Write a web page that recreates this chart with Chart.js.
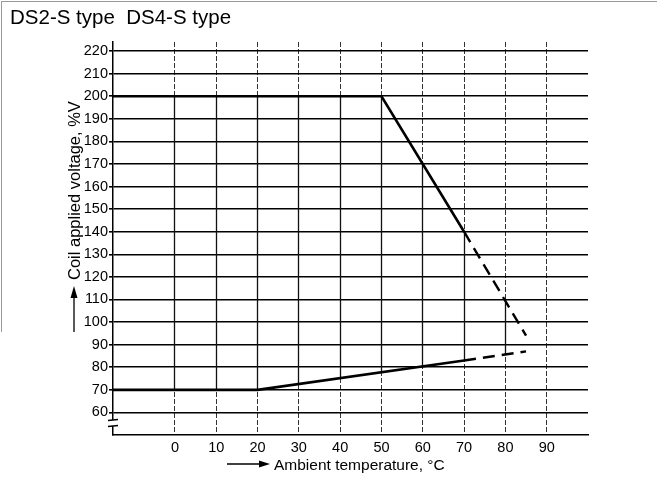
<!DOCTYPE html>
<html>
<head>
<meta charset="utf-8">
<script src="https://cdn.jsdelivr.net/npm/chart.js@4.4.1/dist/chart.umd.min.js"></script>
<style>
  html, body { margin: 0; padding: 0; background: #fff; }
  #marco { position: relative; width: 657px; height: 495px; overflow: hidden; }
  #borde { position: absolute; left: 1px; top: 1px; width: 660px; height: 330px;
           border-top: 1px solid #9a9a9a; border-left: 1px solid #9a9a9a; }
  canvas { position: absolute; left: 0; top: 0; }
</style>
</head>
<body>
<div id="marco">
  <div id="borde"></div>
  <canvas id="grafica" width="657" height="495"></canvas>
</div>
<script>
// Curva superior: tensión máxima admisible (tramo continuo y tramo a trazos)
const tempSupSolida = [-15, 50, 70];
const voltSupSolida = [200, 200, 140];
const tempSupTrazos = [70, 85];
const voltSupTrazos = [140, 94];

// Curva inferior: tensión mínima de operación
const tempInfSolida = [-15, 20, 70];
const voltInfSolida = [70, 70, 83];
const tempInfTrazos = [70, 85];
const voltInfTrazos = [83, 87];

// Marcas de los ejes
const ticksTemp = [0, 10, 20, 30, 40, 50, 60, 70, 80, 90];
const ticksVolt = [60, 70, 80, 90, 100, 110, 120, 130, 140, 150, 160, 170, 180, 190, 200, 210, 220];

const FUENTE = '"Liberation Sans", Arial, Helvetica, sans-serif';

function puntos(xs, ys) {
    return xs.map((x, i) => ({ x: x, y: ys[i] }));
}

// Interpolación sobre una poligonal para saber dónde corta una vertical
function valorEn(xs, ys, x) {
    for (let i = 0; i < xs.length - 1; i++) {
        if (x >= xs[i] && x <= xs[i + 1]) {
            let t = (x - xs[i]) / (xs[i + 1] - xs[i]);
            return ys[i] + t * (ys[i + 1] - ys[i]);
        }
    }
    return null;
}

// Las verticales de la rejilla se ven continuas dentro de la zona de trabajo
const rejillaInterior = {
    id: 'rejillaInterior',
    beforeDatasetsDraw(chart) {
        let ctx = chart.ctx;
        let sx = chart.scales.x, sy = chart.scales.y;
        let supX = tempSupSolida.concat(tempSupTrazos.slice(1));
        let supY = voltSupSolida.concat(voltSupTrazos.slice(1));
        let infX = tempInfSolida.concat(tempInfTrazos.slice(1));
        let infY = voltInfSolida.concat(voltInfTrazos.slice(1));
        ctx.save();
        ctx.strokeStyle = '#111';
        ctx.lineWidth = 1.3;
        ticksTemp.forEach(t => {
            let arriba = valorEn(supX, supY, t);
            let abajo = valorEn(infX, infY, t);
            if (arriba === null || abajo === null) return;
            // mismo redondeo que usa Chart.js para las líneas de 1px
            let px = Math.round(sx.getPixelForValue(t) - 0.5) + 0.5;
            ctx.beginPath();
            ctx.moveTo(px, sy.getPixelForValue(arriba));
            ctx.lineTo(px, sy.getPixelForValue(abajo));
            ctx.stroke();
        });
        ctx.restore();
    }
};

// Títulos, flechas de los ejes y el símbolo de corte del eje vertical
const rotulos = {
    id: 'rotulos',
    afterDraw(chart) {
        let ctx = chart.ctx;
        let area = chart.chartArea;
        ctx.save();
        ctx.fillStyle = '#000';
        ctx.strokeStyle = '#000';

        ctx.font = '20.5px ' + FUENTE;
        ctx.textBaseline = 'alphabetic';
        ctx.textAlign = 'left';
        ctx.fillText('DS2-S type  DS4-S type', 10, 24);

        // Eje X
        ctx.font = '15.5px ' + FUENTE;
        ctx.fillText('Ambient temperature, \u00b0C', 274, 470);
        ctx.lineWidth = 1.3;
        ctx.beginPath();
        ctx.moveTo(227, 464);
        ctx.lineTo(262, 464);
        ctx.stroke();
        ctx.beginPath();
        ctx.moveTo(270, 464);
        ctx.lineTo(259, 460.5);
        ctx.lineTo(259, 467.5);
        ctx.closePath();
        ctx.fill();

        // Eje Y
        ctx.save();
        ctx.translate(80, 280);
        ctx.rotate(-Math.PI / 2);
        ctx.font = '16.5px ' + FUENTE;
        ctx.fillText('Coil applied voltage, %V', 0, 0);
        ctx.restore();
        ctx.beginPath();
        ctx.moveTo(74, 332);
        ctx.lineTo(74, 295);
        ctx.stroke();
        ctx.beginPath();
        ctx.moveTo(74, 286);
        ctx.lineTo(70.5, 298);
        ctx.lineTo(77.5, 298);
        ctx.closePath();
        ctx.fill();

        // Corte del eje vertical
        let ax = area.left;
        ctx.fillStyle = '#fff';
        ctx.fillRect(ax - 2, 420, 4, 6);
        ctx.lineWidth = 1.3;
        ctx.beginPath();
        ctx.moveTo(ax - 5, 420.5);
        ctx.lineTo(ax + 5, 419.5);
        ctx.moveTo(ax - 5, 426.5);
        ctx.lineTo(ax + 5, 425.5);
        ctx.stroke();
        ctx.restore();
    }
};

let ctx = document.getElementById('grafica').getContext('2d');

let datos = {
    datasets: [
        {
            label: 'Superior',
            data: puntos(tempSupSolida, voltSupSolida),
            borderColor: '#000',
            borderWidth: 2.6
        },
        {
            label: 'Superior (trazos)',
            data: puntos(tempSupTrazos, voltSupTrazos),
            borderColor: '#000',
            borderWidth: 2.4,
            borderDash: [12, 7]
        },
        {
            label: 'Inferior',
            data: puntos(tempInfSolida, voltInfSolida),
            borderColor: '#000',
            borderWidth: 2.6
        },
        {
            label: 'Inferior (trazos)',
            data: puntos(tempInfTrazos, voltInfTrazos),
            borderColor: '#000',
            borderWidth: 2.4,
            borderDash: [12, 7]
        }
    ]
};

let opciones = {
    responsive: false,
    animation: false,
    layout: { padding: { top: 42, right: 69, left: 0, bottom: 0 } },
    elements: {
        point: { radius: 0 },
        line: { tension: 0, fill: false }
    },
    plugins: {
        legend: { display: false },
        tooltip: { enabled: false }
    },
    scales: {
        x: {
            type: 'linear',
            min: -15,
            max: 100,
            afterBuildTicks: s => { s.ticks = ticksTemp.map(v => ({ value: v })); },
            afterFit: s => { s.height = 60; },
            ticks: {
                color: '#000',
                font: { family: FUENTE, size: 14.5 },
                padding: 4,
                maxRotation: 0,
                autoSkip: false
            },
            grid: { color: '#333', lineWidth: 1, drawTicks: false },
            border: { display: true, color: '#000', width: 1.5, dash: [5, 2] }
        },
        y: {
            type: 'linear',
            min: 50,
            max: 224,
            afterBuildTicks: s => { s.ticks = ticksVolt.map(v => ({ value: v })); },
            afterFit: s => { s.width = 113; },
            ticks: {
                color: '#000',
                font: { family: FUENTE, size: 14.5 },
                padding: 1
            },
            grid: { color: '#000', lineWidth: 1.6, tickLength: 4 },
            border: { display: true, color: '#000', width: 1.5 }
        }
    }
};

window.myChart = new Chart(ctx, {
    type: 'line',
    data: datos,
    options: opciones,
    plugins: [rejillaInterior, rotulos]
});
</script>
</body>
</html>
